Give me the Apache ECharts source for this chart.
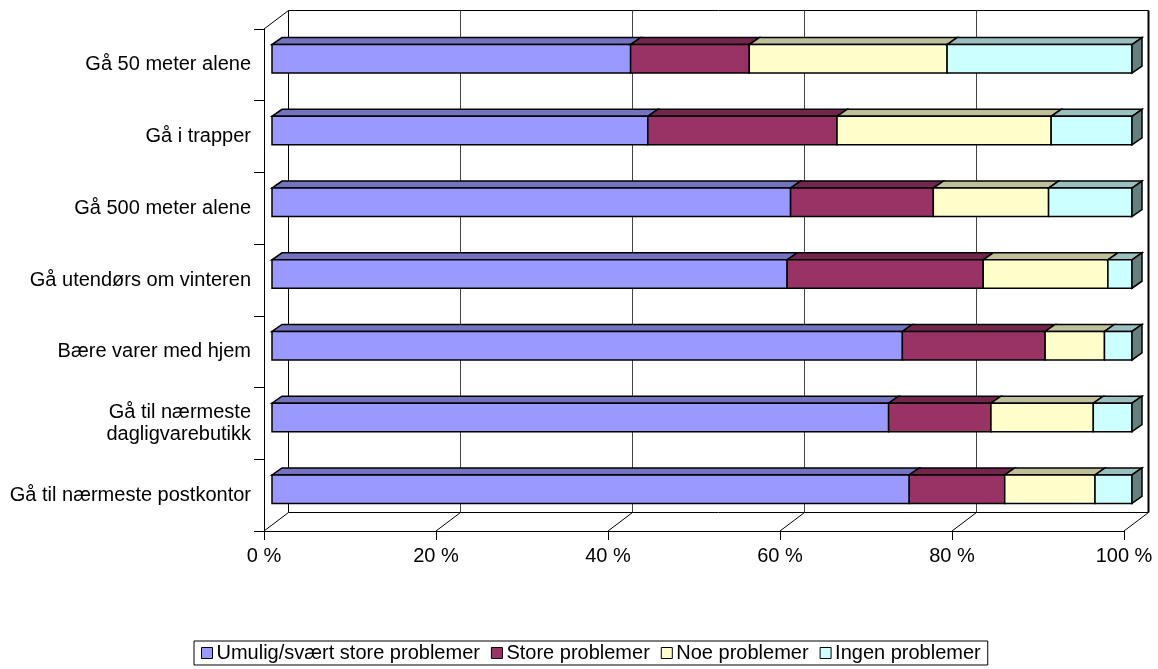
<!DOCTYPE html>
<html>
<head>
<meta charset="utf-8">
<script src="https://cdn.jsdelivr.net/npm/echarts@6/dist/echarts.min.js"></script>
<style>
html,body{margin:0;padding:0;background:#fff;}
#chart{width:1158px;height:669px;}
</style>
</head>
<body>
<div id="chart"></div>
<script>
// ---- data ----
const categories = ['Gå 50 meter alene', 'Gå i trapper', 'Gå 500 meter alene', 'Gå utendørs om vinteren', 'Bære varer med hjem', 'Gå til nærmeste\ndagligvarebutikk', 'Gå til nærmeste postkontor'];
const seriesNames = ['Umulig/svært store problemer', 'Store problemer', 'Noe problemer', 'Ingen problemer'];
const umulig = [41.7, 43.7, 60.3, 59.9, 73.3, 71.7, 74.1];
const store = [13.8, 22.0, 16.6, 22.8, 16.6, 11.9, 11.1];
const noe = [23.0, 24.9, 13.4, 14.5, 6.9, 11.9, 10.5];
const ingen = [21.5, 9.4, 9.7, 2.8, 3.2, 4.5, 4.3];
const xTicks = [0, 20, 40, 60, 80, 100];

// ---- styling ----
const FONT = '"Liberation Sans", Arial, sans-serif';
const frontColors = ['#9999FF', '#993366', '#FFFFCC', '#CCFFFF'];
const topColors = ['#7373BF', '#73264C', '#BFBF99', '#99BFBF'];
const sideColors = ['#4D4D80', '#4D1A33', '#808066', '#668080'];
const WALL = [24.5, -18.5];   // depth of the 3D box
const BAR_F = [8, -6];        // bar front offset
const BAR_D = [10, -7];       // bar depth
const BAR_H = 0.397;          // bar thickness as share of band

const allValues = [umulig, store, noe, ingen];

function buildSeriesData(k) {
  const out = [];
  for (let i = 0; i < categories.length; i++) {
    let start = 0;
    for (let j = 0; j < k; j++) start += allValues[j][i];
    out.push([start, start + allValues[k][i], i]);
  }
  return out;
}

function barRender(k) {
  const last = k === allValues.length - 1;
  return function (params, api) {
    const a = api.coord([api.value(0), api.value(2)]);
    const b = api.coord([api.value(1), api.value(2)]);
    const band = api.size([0, 1])[1];
    const h = band * BAR_H;
    const xa = a[0] + BAR_F[0], xb = b[0] + BAR_F[0];
    const yt = a[1] + BAR_F[1] - h / 2, yb = a[1] + BAR_F[1] + h / 2;
    const dx = BAR_D[0], dy = BAR_D[1];
    const line = { stroke: '#000', lineWidth: 1.5, lineJoin: 'miter' };
    const children = [
      { type: 'polygon', shape: { points: [[xa, yt], [xb, yt], [xb + dx, yt + dy], [xa + dx, yt + dy]] },
        style: Object.assign({ fill: topColors[k] }, line) },
      { type: 'rect', shape: { x: xa, y: yt, width: xb - xa, height: yb - yt },
        style: Object.assign({ fill: frontColors[k] }, line) }
    ];
    if (last) {
      children.push({ type: 'polygon', shape: { points: [[xb, yt], [xb + dx, yt + dy], [xb + dx, yb + dy], [xb, yb]] },
        style: Object.assign({ fill: sideColors[k] }, line) });
    }
    return { type: 'group', children: children };
  };
}

function frameRender(params, api) {
  const cs = params.coordSys;
  const top = cs.y, bottom = cs.y + cs.height;
  const v = api.value(0);
  const x = api.coord([v, 0])[0];
  const x0 = api.coord([xTicks[0], 0])[0];
  const xN = api.coord([xTicks[xTicks.length - 1], 0])[0];
  const isEnd = v === xTicks[xTicks.length - 1];
  const isStart = v === xTicks[0];
  const children = [];
  // back wall gridline
  children.push({ type: 'line', shape: { x1: x + WALL[0], y1: top + WALL[1], x2: x + WALL[0], y2: bottom + WALL[1] },
    style: { stroke: (isEnd || isStart) ? '#000' : '#444', lineWidth: isEnd ? 2 : 1 } });
  // floor diagonal
  children.push({ type: 'line', shape: { x1: x, y1: bottom, x2: x + WALL[0], y2: bottom + WALL[1] },
    style: { stroke: '#000', lineWidth: 1 } });
  if (isStart) {
    children.push({ type: 'line', shape: { x1: x0 + WALL[0], y1: top + WALL[1], x2: xN + WALL[0], y2: top + WALL[1] },
      style: { stroke: '#000', lineWidth: 1 } });
    children.push({ type: 'line', shape: { x1: x0 + WALL[0], y1: bottom + WALL[1], x2: xN + WALL[0], y2: bottom + WALL[1] },
      style: { stroke: '#000', lineWidth: 1 } });
    children.push({ type: 'line', shape: { x1: x0, y1: top, x2: x0 + WALL[0], y2: top + WALL[1] },
      style: { stroke: '#000', lineWidth: 1 } });
  }
  return { type: 'group', children: children };
}

const chart = echarts.init(document.getElementById('chart'), null, { renderer: 'canvas' });

const series = [{
  type: 'custom',
  name: '__frame',
  silent: true,
  data: xTicks.map(v => [v]),
  encode: { x: 0 },
  renderItem: frameRender,
  z: 1
}];
seriesNames.forEach((name, k) => {
  series.push({
    type: 'custom',
    name: name,
    data: buildSeriesData(k),
    encode: { x: [0, 1], y: 2 },
    itemStyle: { color: frontColors[k], borderColor: '#000', borderWidth: 1 },
    renderItem: barRender(k),
    z: 2 + k
  });
});

chart.setOption({
  animation: false,
  backgroundColor: '#fff',
  grid: { left: 264, top: 29, width: 860, height: 502, outerBoundsMode: 'none', containLabel: false },
  xAxis: {
    type: 'value', min: 0, max: 100, interval: 20,
    axisLine: { show: true, lineStyle: { color: '#000', width: 1 } },
    axisTick: { show: true, length: 9, lineStyle: { color: '#000' } },
    splitLine: { show: false },
    axisLabel: { formatter: '{value} %', color: '#000', fontSize: 20, fontFamily: FONT, margin: 15 }
  },
  yAxis: {
    type: 'category', data: categories, inverse: true,
    axisLine: { show: true, lineStyle: { color: '#000', width: 1 } },
    axisTick: { show: true, length: 10, lineStyle: { color: '#000' } },
    splitLine: { show: false },
    axisLabel: { color: '#000', fontSize: 20, fontFamily: FONT, margin: 13, lineHeight: 22, align: 'right' }
  },
  legend: {
    data: seriesNames,
    left: 194, top: 641,
    orient: 'horizontal',
    padding: [2, 7, 2, 7],
    itemGap: 11,
    itemWidth: 11, itemHeight: 11,
    icon: 'rect',
    borderColor: '#000', borderWidth: 1,
    itemStyle: { borderColor: '#000', borderWidth: 1 },
    textStyle: { color: '#000', fontSize: 20, fontFamily: FONT, padding: [0, 0, 0, -1] },
    selectedMode: false
  },
  series: series
});
</script>
</body>
</html>
